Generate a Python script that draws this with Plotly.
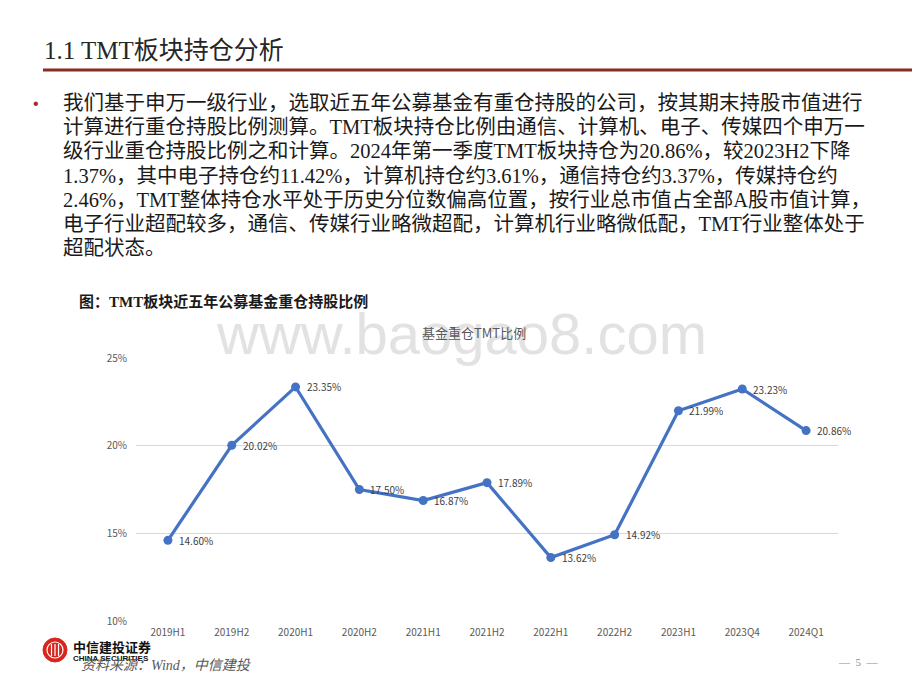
import plotly.graph_objects as go

categories = ["2019H1", "2019H2", "2020H1", "2020H2", "2021H1", "2021H2",
              "2022H1", "2022H2", "2023H1", "2023Q4", "2024Q1"]
tmt_share = [14.60, 20.02, 23.35, 17.50, 16.87, 17.89, 13.62, 14.92, 21.99, 23.23, 20.86]
y_ticks = [10, 15, 20, 25]
y_tick_labels = ["10%", "15%", "20%", "25%"]

title_text = "1.1 TMT板块持仓分析"
body_lines = [
    "我们基于申万一级行业，选取近五年公募基金有重仓持股的公司，按其期末持股市值进行",
    "计算进行重仓持股比例测算。TMT板块持仓比例由通信、计算机、电子、传媒四个申万一",
    "级行业重仓持股比例之和计算。2024年第一季度TMT板块持仓为20.86%，较2023H2下降",
    "1.37%，其中电子持仓约11.42%，计算机持仓约3.61%，通信持仓约3.37%，传媒持仓约",
    "2.46%，TMT整体持仓水平处于历史分位数偏高位置，按行业总市值占全部A股市值计算，",
    "电子行业超配较多，通信、传媒行业略微超配，计算机行业略微低配，TMT行业整体处于",
    "超配状态。",
]
caption = "图：TMT板块近五年公募基金重仓持股比例"
chart_title = "基金重仓TMT比例"
source_text = "资料来源：Wind，中信建投"

# page (browser) coordinates; the html body has an 8px margin
OFF = 8
W, H = 920 - 2 * OFF, 690 - 2 * OFF
L, R, T, B = 136, 838, 358, 621  # plot area in page pixels

def px(x):
    return (x - L) / (R - L)

def py(y):
    return (B - y) / (B - T)

SERIF = "Liberation Serif, Noto Sans CJK SC, serif"
SANS = "Noto Sans CJK SC, Open Sans, sans-serif"

fig = go.Figure()
fig.add_trace(go.Scatter(
    x=categories, y=tmt_share, mode="lines+markers",
    line=dict(color="#4472C4", width=3.2),
    marker=dict(color="#4472C4", size=9),
    hoverinfo="skip", showlegend=False,
))

annotations = []
# data labels, placed a little to the right of each point
for c, v in zip(categories, tmt_share):
    annotations.append(dict(text=f"{v:.2f}%", x=c, y=v, xref="x", yref="y", showarrow=False,
                            xanchor="left", yanchor="middle", xshift=9,
                            font=dict(family=SANS, size=10, color="#404040")))

def note(text, x, y, size, family, color, xanchor="left"):
    return dict(text=text, x=px(x), y=py(y), xref="paper", yref="paper",
                showarrow=False, xanchor=xanchor, yanchor="middle",
                font=dict(family=family, size=size, color=color))

annotations = [
    note("www.baogao8.com", 461, 333, 58, "Liberation Sans, sans-serif", "#e2e2e2", "center"),
] + annotations + [
    note(title_text, 42, 50, 25, SERIF, "#262626"),
    note("•", 36, 103, 16, "Liberation Sans, sans-serif", "#A52A2A", "center"),
]
line_y0, line_dy = 103, 24.2
for i, ln in enumerate(body_lines):
    annotations.append(note(ln, 61, line_y0 + i * line_dy, 20.5, SERIF, "#1a1a1a"))
annotations += [
    note("<b>" + caption + "</b>", 77, 301, 15, SERIF, "#1a1a1a"),
    note(chart_title, 474, 332, 13, SANS, "#595959", "center"),
    note("<b>中信建投证券</b>", 71, 646, 13, SANS, "#111111"),
    note("<b>CHINA SECURITIES</b>", 71, 658, 8, "Liberation Sans, sans-serif", "#111111"),
    note("<i>" + source_text + "</i>", 79, 665, 14, SERIF, "#595959"),
    note("—  5  —", 859, 662, 11, SERIF, "#8c8c8c", "center"),
]

shapes = [
    dict(type="line", xref="paper", yref="paper", x0=px(43), x1=px(930), y0=py(70), y1=py(70),
         line=dict(color="#8B2B22", width=3)),
    dict(type="circle", xref="paper", yref="paper", x0=px(43), x1=px(67), y0=py(662), y1=py(638),
         fillcolor="#D7261E", line=dict(color="#D7261E", width=1)),
    dict(type="circle", xref="paper", yref="paper", x0=px(47), x1=px(63), y0=py(658), y1=py(642),
         fillcolor="rgba(0,0,0,0)", line=dict(color="white", width=1.2)),
]
for xx in (51.5, 55, 58.5):
    shapes.append(dict(type="line", xref="paper", yref="paper", x0=px(xx), x1=px(xx), y0=py(656), y1=py(644),
                       line=dict(color="white", width=1.2)))

fig.update_layout(
    width=W, height=H,
    margin=dict(l=L - OFF, r=W - (R - OFF), t=T - OFF, b=H - (B - OFF), autoexpand=False),
    paper_bgcolor="white", plot_bgcolor="white",
    annotations=annotations, shapes=shapes,
    xaxis=dict(type="category", range=[-0.5, len(categories) - 0.5], showgrid=False, showline=False,
               zeroline=False, ticks="", automargin=False,
               tickfont=dict(family=SANS, size=10, color="#595959"), ticklabelstandoff=4),
    yaxis=dict(range=[10, 25], tickvals=y_ticks, ticktext=y_tick_labels, showgrid=True,
               automargin=False,
               gridcolor="#d9d9d9", gridwidth=1, zeroline=False, showline=False, ticks="",
               tickfont=dict(family=SANS, size=10, color="#595959"), ticklabelstandoff=8),
    font=dict(family=SANS),
)

fig.write_html("out.html")
